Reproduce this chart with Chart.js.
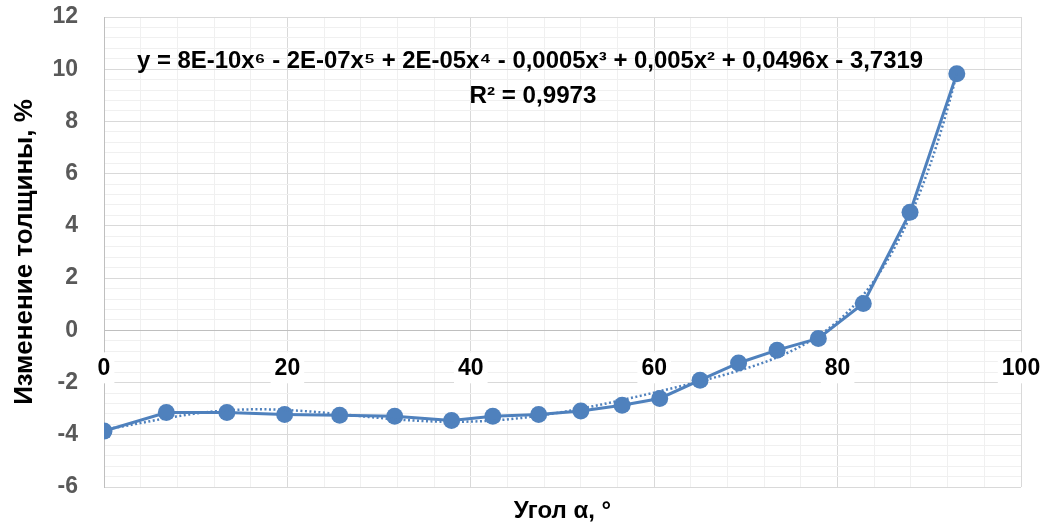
<!DOCTYPE html>
<html>
<head>
<meta charset="utf-8">
<script src="https://cdn.jsdelivr.net/npm/chart.js@4.4.1/dist/chart.umd.min.js"></script>
<style>
  html, body { margin: 0; padding: 0; background: #ffffff; }
  #wrap { width: 1050px; height: 528px; }
</style>
</head>
<body>
<div id="wrap"><canvas id="chart" width="1050" height="528"></canvas></div>
<script>
// Measured data: bend angle vs. relative change of wall thickness
const angles = [0, 6.8, 13.4, 19.7, 25.7, 31.7, 37.9, 42.4, 47.4, 52.0, 56.5, 60.6, 65.0, 69.2, 73.4, 77.9, 82.8, 87.9, 93.0];
const thicknessChange = [-3.86, -3.15, -3.15, -3.22, -3.25, -3.29, -3.45, -3.29, -3.22, -3.09, -2.87, -2.61, -1.91, -1.25, -0.76, -0.31, 1.03, 4.52, 9.83];

// Axis labels
const xTickLabels = ['0', '20', '40', '60', '80', '100'];
const xTitle = 'Угол α, °';
const yTitle = 'Изменение толщины, %';

// Trendline label
const equationText = 'y = 8E-10x⁶ - 2E-07x⁵ + 2E-05x⁴ - 0,0005x³ + 0,005x² + 0,0496x - 3,7319';
const r2Text = 'R² = 0,9973';

const BLUE = '#4F81BD';
const FONT = "'Liberation Sans', Arial, sans-serif";
const NARROW = "'Liberation Sans Narrow', 'Liberation Sans', Arial, sans-serif";

// Least-squares polynomial (6th order) fitted to the measured points
function polyFit(xs, ys, deg) {
  const s = 100;
  const n = deg + 1;
  const A = Array.from({ length: n }, () => new Array(n + 1).fill(0));
  for (let k = 0; k < xs.length; k++) {
    const t = xs[k] / s;
    const p = [];
    for (let i = 0; i < n; i++) p.push(Math.pow(t, i));
    for (let i = 0; i < n; i++) {
      for (let j = 0; j < n; j++) A[i][j] += p[i] * p[j];
      A[i][n] += p[i] * ys[k];
    }
  }
  for (let c = 0; c < n; c++) {
    let piv = c;
    for (let r = c + 1; r < n; r++) if (Math.abs(A[r][c]) > Math.abs(A[piv][c])) piv = r;
    [A[c], A[piv]] = [A[piv], A[c]];
    for (let r = 0; r < n; r++) {
      if (r === c) continue;
      const f = A[r][c] / A[c][c];
      for (let j = c; j <= n; j++) A[r][j] -= f * A[c][j];
    }
  }
  const coef = A.map((row, i) => row[n] / row[i]);
  return x => coef.reduce((acc, c, i) => acc + c * Math.pow(x / s, i), 0);
}

const trend = polyFit(angles, thicknessChange, 6);
const xFirst = angles[0], xLast = angles[angles.length - 1];
const trendPoints = [];
for (let i = 0; i <= 200; i++) {
  const x = xFirst + (xLast - xFirst) * i / 200;
  trendPoints.push({ x: x, y: trend(x) });
}
const dataPoints = angles.map((a, i) => ({ x: a, y: thicknessChange[i] }));

const isMultiple = (v, m) => Math.abs(v / m - Math.round(v / m)) < 1e-6;

// Tick labels of the horizontal axis sit just below the y = 0 line on a white box;
// the trendline equation is written above the curve.
const overlayPlugin = {
  id: 'overlay',
  beforeDatasetsDraw(chart) {
    const ctx = chart.ctx;
    const xs = chart.scales.x, ys = chart.scales.y;
    const y0 = ys.getPixelForValue(0);
    ctx.save();
    ctx.font = 'bold 23px ' + FONT;
    ctx.textAlign = 'center';
    ctx.textBaseline = 'middle';
    xTickLabels.forEach(lbl => {
      const px = xs.getPixelForValue(Number(lbl));
      const py = y0 + 37;
      const w = ctx.measureText(lbl).width;
      ctx.fillStyle = '#ffffff';
      ctx.fillRect(px - w / 2 - 4, py - 15, w + 8, 31);
      ctx.fillStyle = '#000000';
      ctx.fillText(lbl, px, py + 1);
    });
    ctx.restore();
  },
  afterDatasetsDraw(chart) {
    const ctx = chart.ctx;
    const drawFit = (text, cx, cy, targetW) => {
      ctx.save();
      ctx.font = 'bold 23px ' + NARROW;
      ctx.textAlign = 'center';
      ctx.textBaseline = 'middle';
      const w = ctx.measureText(text).width;
      ctx.translate(cx, cy);
      ctx.scale(targetW / w, 1);
      ctx.fillStyle = '#000000';
      ctx.fillText(text, 0, 0);
      ctx.restore();
    };
    drawFit(equationText, 530, 62, 786);
    drawFit(r2Text, 533, 97, 127);
  }
};

new Chart(document.getElementById('chart'), {
  type: 'scatter',
  data: {
    datasets: [
      {
        label: 'Полиномиальная (6)',
        data: trendPoints,
        showLine: true,
        borderColor: BLUE,
        borderWidth: 2.5,
        borderDash: [2, 2.5],
        pointRadius: 0,
        fill: false,
        order: 0
      },
      {
        label: 'Изменение толщины',
        data: dataPoints,
        showLine: true,
        borderColor: BLUE,
        backgroundColor: BLUE,
        borderWidth: 3,
        pointRadius: 8.5,
        pointBorderWidth: 0,
        pointBackgroundColor: BLUE,
        fill: false,
        order: 1
      }
    ]
  },
  options: {
    responsive: false,
    animation: false,
    devicePixelRatio: 1,
    layout: { padding: { top: 17, right: 29, bottom: 0, left: 0 } },
    plugins: { legend: { display: false }, tooltip: { enabled: false } },
    scales: {
      x: {
        type: 'linear',
        min: 0,
        max: 100,
        ticks: { stepSize: 4, display: false, autoSkip: false },
        grid: {
          drawTicks: false,
          lineWidth: 1,
          color: c => isMultiple(c.tick.value, 20) ? '#d9d9d9' : '#f0f0f0'
        },
        border: { display: false },
        title: {
          display: true,
          text: xTitle,
          color: '#000000',
          font: { family: FONT, size: 24, weight: 'bold' },
          padding: { top: 0, bottom: 2 }
        },
        afterFit(scale) { scale.height = 41; scale.paddingLeft = 0; scale.paddingRight = 0; }
      },
      y: {
        min: -6,
        max: 12,
        ticks: {
          stepSize: 0.4,
          autoSkip: false,
          padding: 26,
          color: '#595959',
          font: { family: FONT, size: 23, weight: 'bold' },
          callback: v => isMultiple(v, 2) ? String(Math.round(v)) : ''
        },
        grid: {
          drawTicks: false,
          lineWidth: 1,
          color: c => c.tick.value === 0 ? '#bfbfbf' : (isMultiple(c.tick.value, 2) ? '#d9d9d9' : '#f0f0f0')
        },
        border: { display: true, color: '#bfbfbf', width: 1 },
        title: {
          display: true,
          text: yTitle,
          color: '#000000',
          font: { family: FONT, size: 26, weight: 'bold' },
          padding: { top: 9, bottom: 0 }
        },
        afterFit(scale) { scale.width = 104; scale.paddingTop = 0; scale.paddingBottom = 0; }
      }
    }
  },
  plugins: [overlayPlugin]
});
</script>
</body>
</html>
